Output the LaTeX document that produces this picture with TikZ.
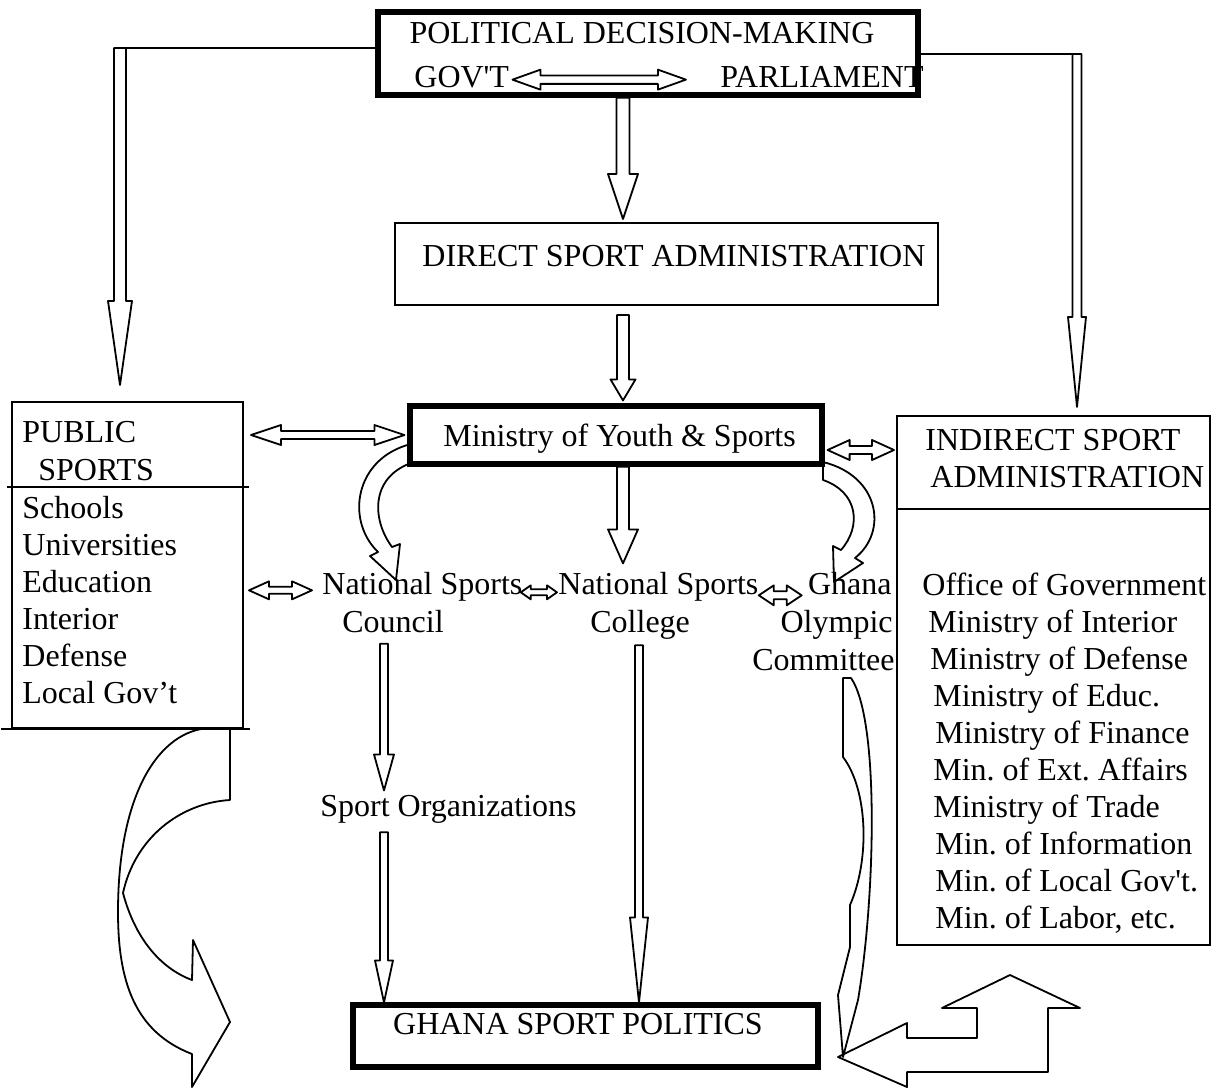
\documentclass[tikz,border=0pt]{standalone}
\usepackage{fontspec}
\setmainfont{Liberation Serif}
\usetikzlibrary{calc}
\frenchspacing
% hollow block arrows between named points
\newcommand{\vblk}[5]{% start, tip, head length, half shaft, half head
  \draw[blk] let \p1=#1, \p2=#2 in
    (\x2-#4,\y1) -- (\x2-#4,\y2+#3) -- (\x2-#5,\y2+#3) -- (\x2,\y2)
    -- (\x2+#5,\y2+#3) -- (\x2+#4,\y2+#3) -- (\x2+#4,\y1) -- cycle;}
\newcommand{\hdbl}[5]{% left tip, right tip, head length, half shaft, half head
  \draw[blk] let \p1=#1, \p2=#2 in
    (\x1,\y1) -- (\x1+#3,\y1+#5) -- (\x1+#3,\y1+#4) -- (\x2-#3,\y1+#4)
    -- (\x2-#3,\y1+#5) -- (\x2,\y1) -- (\x2-#3,\y1-#5) -- (\x2-#3,\y1-#4)
    -- (\x1+#3,\y1-#4) -- (\x1+#3,\y1-#5) -- cycle;}

\begin{document}
\begin{tikzpicture}[
  x=0.5pt, y=-0.5pt,
  font=\fontsize{16}{18.5}\selectfont,
  txt/.style={inner sep=0pt},
  lft/.style={txt, anchor=base west},
  rgt/.style={txt, anchor=base east},
  box/.style={draw, line width=1pt, inner sep=0pt},
  heavy/.style={draw, line width=2.6pt, inner sep=0pt},
  blk/.style={draw, line width=0.9pt, line join=round},
  ln/.style={line width=1pt},
]
\useasboundingbox (0,0) rectangle (1217,1089);

% ---------------------------------------------------------------- boxes
\node[heavy, minimum width=270pt, minimum height=41.5pt] (pol) at (648,53.5) {};
\node[box, minimum width=271.5pt, minimum height=41pt] (dir) at (666.5,264) {};
\node[heavy, minimum width=206pt, minimum height=29pt] (min) at (616,435) {};
\node[box, minimum width=115.5pt, minimum height=163pt] (pub) at (127.5,565) {};
\node[box, minimum width=156.5pt, minimum height=264.5pt] (ind) at (1053.5,680.5) {};
\node[heavy, minimum width=232.5pt, minimum height=31pt] (gsp) at (585.5,1036) {};
\draw[ln] ($(pub.north west)+(-4,86)$) -- ($(pub.north east)+(5,86)$);
\draw[ln] ($(pub.south west)+(-10,0)$) -- ($(pub.south east)+(6,0)$);
\draw[ln] ($(ind.north west)+(0,94)$) -- ($(ind.north east)+(0,94)$);

% ---------------------------------------------------------------- texts
\node[txt, anchor=base] (polT) at (642,43) {POLITICAL DECISION-MAKING};
\node[lft] (gov) at (414,87) {GOV\textquotesingle T};
\node[rgt] (parl) at (924,87) {PARLIAMENT};
\node[lft] (dirT) at (422,266) {DIRECT SPORT ADMINISTRATION};
\node[lft] (minT) at (443,446) {Ministry of Youth \& Sports};
\node[lft] (pubT1) at (22,442) {PUBLIC};
\node[lft] (pubT2) at (38,480) {SPORTS};
\foreach \t [count=\i] in {Schools,Universities,Education,Interior,Defense,Local Gov’t}
  \node[lft] (pub\i) at (22,481+37*\i) {\t};
\node[lft] (indT1) at (925,450) {INDIRECT SPORT};
\node[lft] (indT2) at (930,487) {ADMINISTRATION};
\foreach \x/\t [count=\i] in {922/Office of Government, 928/Ministry of Interior,
    930/Ministry of Defense, 933/Ministry of Educ., 935/Ministry of Finance,
    933/Min. of Ext. Affairs, 933/Ministry of Trade, 935/Min. of Information,
    935/Min. of Local Gov\textquotesingle t., 935/{Min. of Labor, etc.}}
  \node[lft] (ind\i) at (\x,558+37*\i) {\t};
\node[lft] (nsc1) at (322,594) {National Sports};
\node[lft] (nsc2) at (342,632) {Council};
\node[lft] (col1) at (558,594) {National Sports};
\node[lft] (col2) at (590,632) {College};
\node[rgt] (gh1) at (892,594) {Ghana};
\node[rgt] (gh2) at (893,632) {Olympic};
\node[rgt] (gh3) at (895,670) {Committee};
\node[lft] (org) at (320,816) {Sport Organizations};
\node[txt, anchor=base] (gspT) at (578,1034) {GHANA SPORT POLITICS};

% ---------------------------------------------------------------- straight arrows
\coordinate (lftc) at (120,48);
\coordinate (rgtc) at (1077,54);
\coordinate (midc) at (623,0);
\coordinate (orgc) at (384,0);
\coordinate (colc) at (639,0);
\draw[ln] (pol.west |- lftc) -- ($(lftc)+(6,0)$);
\vblk{(lftc)}{($(pub.north -| lftc)+(0,-16)$)}{42pt}{3pt}{6pt}
\draw[ln] (pol.east |- rgtc) -- ($(rgtc)+(-4.5,0)$);
\vblk{(rgtc)}{($(ind.north -| rgtc)+(0,-8)$)}{45pt}{2.25pt}{4.5pt}
\vblk{(pol.south -| midc)}{($(dir.north -| midc)+(0,-3)$)}{22.5pt}{3.25pt}{7.5pt}
\vblk{($(dir.south -| midc)+(0,9)$)}{($(min.north -| midc)+(0,-3)$)}{10.5pt}{3pt}{6.25pt}
\vblk{(min.south -| midc)}{($(col1.north -| midc)+(0,-8)$)}{17pt}{3pt}{7.5pt}
\vblk{($(nsc2.south -| orgc)+(0,11)$)}{($(org.north -| orgc)+(0,-4)$)}{18pt}{2pt}{5pt}
\vblk{($(org.south -| orgc)+(0,9)$)}{(gsp.north -| orgc)}{21pt}{2pt}{4.5pt}
\vblk{($(col2.south -| colc)+(0,6)$)}{(gsp.north -| colc)}{42.5pt}{2pt}{4.5pt}

% double arrows
\hdbl{($(gov.east)+(3,3)$)}{($(parl.west)+(-34,3)$)}{14pt}{2.1pt}{5pt}
\hdbl{($(pub.east |- min.west)+(7,0)$)}{($(min.west)+(-3,0)$)}{15pt}{2pt}{5pt}
\hdbl{($(min.east)+(3,15)$)}{($(ind.west |- min.east)+(-2,15)$)}{11pt}{2pt}{5pt}
\hdbl{($(pub.east |- nsc1.west)+(5,4)$)}{($(nsc1.west)+(-10,4)$)}{10pt}{1.75pt}{4.5pt}
\hdbl{($(nsc1.east)+(-2,6)$)}{($(col1.west)+(-1,6)$)}{5pt}{1.5pt}{3.5pt}
\hdbl{($(col1.east)+(0,9)$)}{($(gh1.west)+(-6,9)$)}{7.5pt}{2pt}{5pt}

% ---------------------------------------------------------------- curved arrows
\draw[blk] (411,444) .. controls (355,458) and (345,520) .. (378,552) -- (370,556)
  -- (396,580) -- (400,544) -- (392,547) .. controls (372,520) and (370,478) .. (411,463) -- cycle;
\draw[blk] (823,462) .. controls (880,476) and (888,532) .. (855,558) -- (863,563)
  -- (834,582) -- (833,546) -- (841,550) .. controls (862,526) and (858,492) .. (823,480) -- cycle;
\draw[blk] (843,678) -- (843,757) .. controls (868,790) and (870,860) .. (850,905) -- (850,947)
  -- (838,995) -- (843,1057) -- (858,1000) .. controls (875,900) and (880,720) .. (851,678) -- cycle;
\draw[blk] (977,1008) -- (942,1008) -- (1010,975) -- (1080,1008) -- (1048,1008) -- (1048,1072)
  -- (907,1072) -- (907,1087) -- (838,1057) -- (907,1023) -- (907,1038) -- (977,1038) -- cycle;
\draw[blk] (230,728) -- (230,800) .. controls (180,803) and (135,838) .. (123,893)
  .. controls (135,938) and (160,968) .. (192,980) -- (193,940) -- (230,1022) -- (192,1087)
  -- (192,1054) .. controls (135,1032) and (118,982) .. (118,912)
  .. controls (118,792) and (160,730) .. (210,728) -- cycle;
\end{tikzpicture}
\end{document}
